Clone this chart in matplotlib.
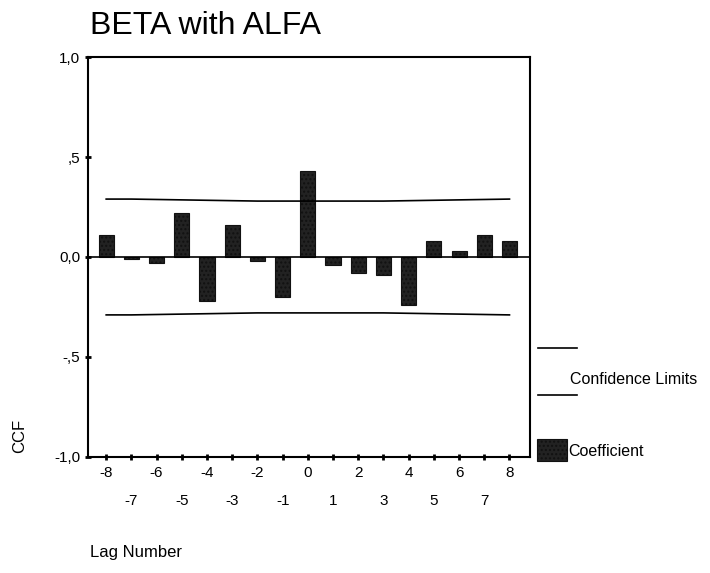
import numpy as np
import matplotlib.pyplot as plt
from matplotlib.patches import Rectangle
from matplotlib.lines import Line2D

plt.rcParams['font.family'] = ['Liberation Sans', 'DejaVu Sans']

# lag numbers and cross-correlation coefficients
lags = list(range(-8, 9))
ccf = [0.11, -0.01, -0.03, 0.22, -0.22, 0.16, -0.02, -0.20, 0.43,
       -0.04, -0.08, -0.09, -0.24, 0.08, 0.03, 0.11, 0.08]
upper_limit = [0.29, 0.29, 0.288, 0.286, 0.284, 0.282, 0.28, 0.28, 0.28,
               0.28, 0.28, 0.28, 0.282, 0.284, 0.286, 0.288, 0.29]
lower_limit = [-u for u in upper_limit]
ytick_vals = [-1.0, -0.5, 0.0, 0.5, 1.0]
ytick_labels = ['-1,0', '-,5', '0,0', ',5', '1,0']

fig = plt.figure(figsize=(7.1, 5.73), dpi=100)
ax = fig.add_axes([0.124, 0.203, 0.622, 0.697])

ax.bar(lags, ccf, width=0.6, color='#222222', edgecolor='#111111',
       hatch='....', linewidth=0.8)
ax.axhline(0, color='black', lw=1.2)
ax.plot(lags, upper_limit, color='black', lw=1.2)
ax.plot(lags, lower_limit, color='black', lw=1.2)

ax.set_xlim(-8.72, 8.8)
ax.set_ylim(-1.0, 1.0)
for s in ax.spines.values():
    s.set_linewidth(1.5)

ax.set_yticks(ytick_vals)
ax.set_yticklabels(ytick_labels, fontsize=11)
ax.set_xticks(lags)
ax.set_xticklabels(['' for _ in lags])
ax.tick_params(axis='both', direction='inout', length=4, width=2)

# staggered x tick labels: even lags on the first row, odd lags below
for lag in lags:
    y = -0.04 if lag % 2 == 0 else -0.11
    ax.text(lag, y, str(lag), transform=ax.get_xaxis_transform(),
            ha='center', va='center', fontsize=11)

fig.text(0.127, 0.955, 'BETA with ALFA', fontsize=23, ha='left', va='center')
fig.text(0.027, 0.24, 'CCF', rotation=90, fontsize=12, ha='center', va='center')
fig.text(0.127, 0.035, 'Lag Number', fontsize=12, ha='left', va='center')

# legend drawn at figure level
fig.add_artist(Line2D([0.758, 0.813], [1 - 348 / 573, 1 - 348 / 573],
                      color='black', lw=1.2))
fig.add_artist(Line2D([0.758, 0.813], [1 - 395 / 573, 1 - 395 / 573],
                      color='black', lw=1.2))
fig.text(0.803, 1 - 380 / 573, 'Confidence Limits', fontsize=11.5,
         ha='left', va='center')
fig.add_artist(Rectangle((0.756, 1 - 461 / 573), 0.043, 22 / 573,
                         facecolor='#222222', edgecolor='#111111',
                         hatch='....', lw=0.8))
fig.text(0.8, 1 - 451 / 573, 'Coefficient', fontsize=11.5,
         ha='left', va='center')

fig.savefig('out.png', dpi=100)
